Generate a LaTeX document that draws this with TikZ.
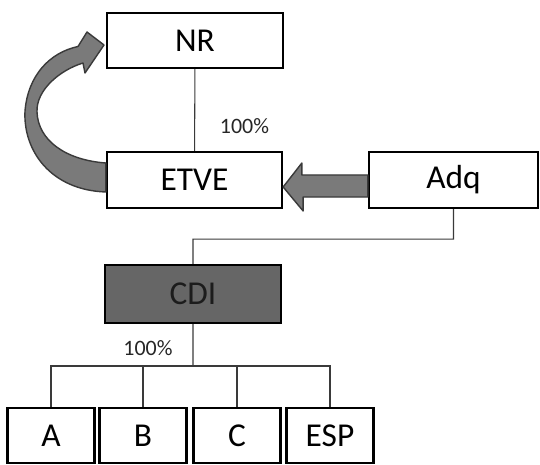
\documentclass[tikz,border=0pt]{standalone}
\usepackage{fontspec}
\setmainfont{Carlito}
\usepackage{tikz}
\definecolor{arrowgray}{HTML}{7A7A7A}
\definecolor{edgegray}{HTML}{3A3A3A}
\definecolor{cdigray}{HTML}{666666}
\definecolor{cditext}{HTML}{1C1C1C}

\begin{document}
\begin{tikzpicture}
	\tikzstyle{box}=[draw,line width=1.3pt,shape=rectangle,inner sep=0pt,minimum height=1.1cm,font=\fontsize{19}{19}\selectfont];
	\tikzstyle{small}=[box,minimum width=1.74cm];
	\tikzstyle{pct}=[font=\fontsize{12.5}{12.5}\selectfont,text=black!85];
	\tikzstyle{bigarrow}=[fill=arrowgray,draw=edgegray,line width=0.8pt,line join=round];
	\useasboundingbox (0,0) rectangle (10.8,-9.3);
	\node[box,minimum width=3.52cm] (nr) at (3.9,-0.81) {NR};
	\node[box,minimum width=3.5cm,minimum height=1.12cm] (etve) at (3.89,-3.6) {ETVE};
	\node[box,minimum width=3.38cm,minimum height=1.12cm] (adq) at (9.07,-3.6) {Adq};
	\node[box,minimum width=3.52cm,minimum height=1.16cm,fill=cdigray,text=cditext] (cdi) at (3.86,-5.88) {CDI};
	\node[small] (a) at (1.02,-8.71) {A};
	\node[small] (b) at (2.86,-8.71) {B};
	\node[small] (c) at (4.74,-8.71) {C};
	\node[small] (esp) at (6.6,-8.71) {ESP};
	\node[pct] (pct1) at (4.89,-2.52) {100\%};
	\node[pct] (pct2) at (2.96,-6.96) {100\%};
	\coordinate (bus) at (3.86,-7.32);
	\draw[edgegray,line width=0.6pt] (nr) -- (etve)
	(adq.south) -- ++(0,-0.6) -| (cdi.north)
	(cdi.south) -- (bus);
	\foreach \n in {a,b,c,esp}
		\draw[edgegray,line width=0.6pt] (\n.north) |- (bus);
	% block arrow Adq -> ETVE
	\filldraw[bigarrow] ([yshift=1mm]adq.west) -- ++(-1.32,0) -- ++(0,0.24)
	-- ([yshift=-1.4mm]etve.east) -- ++(0.4,-0.48) -- ++(0,0.28)
	-- ([yshift=-3.4mm]adq.west) -- cycle;
	% curved arrow ETVE -> NR
	\filldraw[bigarrow] ([yshift=-2.4mm]etve.west)
	.. controls (1.0,-3.8) and (0.46,-3.0) .. (0.5,-2.22)
	.. controls (0.56,-1.5) and (1.0,-1.05) .. (1.56,-0.93)
	-- (1.74,-0.64) -- (2.08,-0.9) -- (1.7,-1.46) -- (1.66,-1.26)
	.. controls (1.2,-1.4) and (0.72,-1.8) .. (0.74,-2.24)
	.. controls (0.76,-2.8) and (1.3,-3.2) .. ([yshift=3.4mm]etve.west) -- cycle;
\end{tikzpicture}
\end{document}
